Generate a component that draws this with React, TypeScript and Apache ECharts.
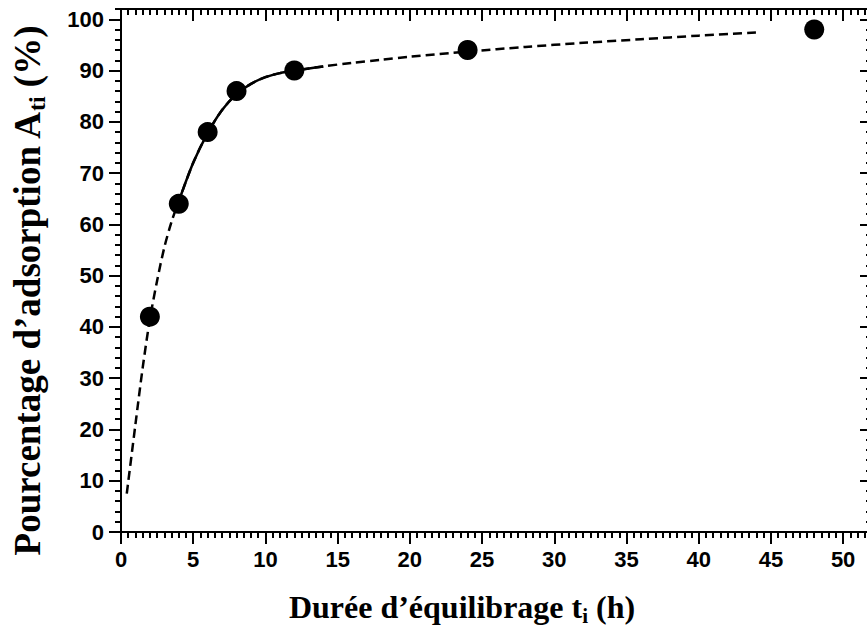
import React, { useEffect, useRef } from "react";
import * as echarts from "echarts";

// Measured points
const sampleTimes = [2, 4, 6, 8, 12, 24, 48];
const adsorption = [42, 64, 78, 86, 90, 94, 98];

// Fitted curve
const fitTimes = [0.4, 1, 1.5, 2, 2.5, 3, 3.5, 4, 5, 6, 7, 8, 9, 10, 11, 12, 14, 16, 18, 20, 24, 28, 32, 36, 40, 44];
const fitValues = [7.5, 21, 32, 41.5, 49, 55.5, 60.5, 64.5, 72, 77.8, 82.3, 85.4, 87.4, 88.7, 89.5, 90, 90.8, 91.5, 92.1, 92.7, 93.7, 94.6, 95.4, 96.1, 96.8, 97.4];
const solidStart = 4;
const solidEnd = 15;

// Axes
const xMin = 0;
const xMax = 52;
const xMinorStep = 0.5;
const xMajorTicks = [0, 5, 10, 15, 20, 25, 30, 35, 40, 45, 50];
const yMin = 0;
const yMax = 102;
const yMinorStep = 2;
const yMajorTicks = [0, 10, 20, 30, 40, 50, 60, 70, 80, 90, 100];

const xTitle = "{a|Durée d’équilibrage t}{s|i}{a| (h)}";
const yTitle = "{a|Pourcentage d’adsorption A}{s|ti}{a| (%)}";

export default function App() {
  const ref = useRef<HTMLDivElement>(null);

  useEffect(() => {
    if (!ref.current) return;
    const chart = echarts.init(ref.current, null, { renderer: "svg" });

    const line = { show: true, onZero: false, lineStyle: { color: "#000", width: 2 } };
    const labelStyle = {
      fontFamily: "Liberation Sans, Arial, sans-serif",
      fontWeight: "bold" as const,
      fontSize: 22,
      color: "#000",
    };

    const xAxisFor = (position: "top" | "bottom", major: boolean) => ({
      type: "value" as const,
      min: xMin,
      max: xMax,
      position,
      ...(major ? {} : { interval: xMinorStep }),
      axisLine: line,
      axisTick: {
        show: true,
        inside: position === "top",
        length: major ? 12 : 6,
        lineStyle: { color: "#000", width: 2 },
        ...(major ? { customValues: xMajorTicks } : {}),
      },
      axisLabel:
        major && position === "bottom"
          ? { show: true, customValues: xMajorTicks, margin: 16, ...labelStyle }
          : { show: false },
      splitLine: { show: false },
    });

    const yAxisFor = (position: "left" | "right", major: boolean) => ({
      type: "value" as const,
      min: yMin,
      max: yMax,
      position,
      ...(major ? {} : { interval: yMinorStep }),
      axisLine: line,
      axisTick: {
        show: true,
        inside: position === "right",
        length: major ? 12 : 6,
        lineStyle: { color: "#000", width: 2 },
        ...(major ? { customValues: yMajorTicks } : {}),
      },
      axisLabel:
        major && position === "left"
          ? { show: true, customValues: yMajorTicks, margin: 17, ...labelStyle }
          : { show: false },
      splitLine: { show: false },
    });

    const fitData = fitTimes.map((t, i) => [t, fitValues[i]]);
    const solidData = fitData.filter((p) => p[0] >= solidStart && p[0] <= solidEnd);

    const titleRich = (big: number, small: number, subLH: number) => ({
      a: {
        fontFamily: "Liberation Serif, Times New Roman, serif",
        fontWeight: "bold" as const,
        fontSize: big,
        lineHeight: big + 6,
        color: "#000",
      },
      s: {
        fontFamily: "Liberation Serif, Times New Roman, serif",
        fontWeight: "bold" as const,
        fontSize: small,
        lineHeight: subLH,
        verticalAlign: "bottom" as const,
        color: "#000",
      },
    });

    chart.setOption({
      animation: false,
      backgroundColor: "#fff",
      grid: { left: 121, top: 9, right: 8, bottom: 98, containLabel: false, outerBoundsMode: "none" },
      xAxis: [
        xAxisFor("bottom", true),
        xAxisFor("bottom", false),
        xAxisFor("top", true),
        xAxisFor("top", false),
      ],
      yAxis: [
        yAxisFor("left", true),
        yAxisFor("left", false),
        yAxisFor("right", true),
        yAxisFor("right", false),
      ],
      series: [
        {
          type: "line",
          data: fitData,
          smooth: 0.3,
          showSymbol: false,
          lineStyle: { color: "#000", width: 2.5, type: [9, 5] },
          z: 2,
        },
        {
          type: "line",
          data: solidData,
          smooth: 0.3,
          showSymbol: false,
          lineStyle: { color: "#000", width: 2.5, type: "solid" },
          z: 3,
        },
        {
          type: "scatter",
          data: sampleTimes.map((t, i) => [t, adsorption[i]]),
          symbol: "circle",
          symbolSize: 20,
          itemStyle: { color: "#000", opacity: 1 },
          z: 5,
        },
      ],
      graphic: [
        {
          type: "text",
          x: 462,
          y: 607,
          style: {
            text: xTitle,
            rich: titleRich(32, 21, 15),
            align: "center",
            verticalAlign: "middle",
          },
        },
        {
          type: "text",
          x: 27,
          y: 291,
          rotation: Math.PI / 2,
          style: {
            text: yTitle,
            rich: titleRich(37, 24, 18),
            align: "center",
            verticalAlign: "middle",
          },
        },
      ],
    });

    return () => chart.dispose();
  }, []);

  return (
    <div
      style={{
        position: "fixed",
        left: 0,
        top: 0,
        width: 867,
        height: 630,
        overflow: "hidden",
        background: "#fff",
      }}
    >
      <div ref={ref} style={{ width: 880, height: 630 }} />
    </div>
  );
}
